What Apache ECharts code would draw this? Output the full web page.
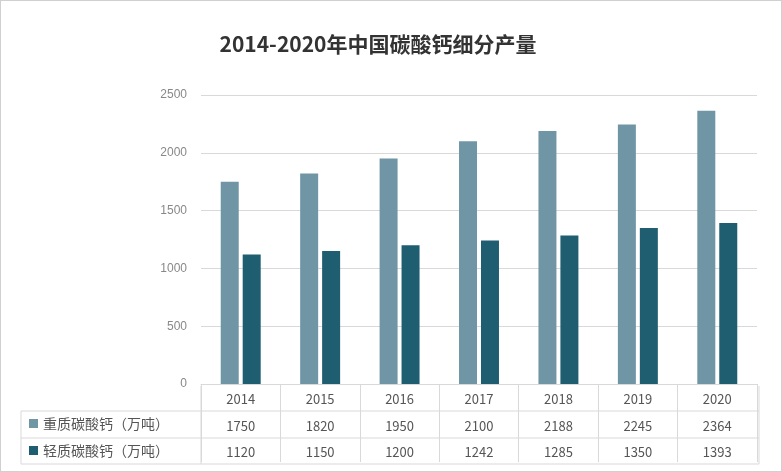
<!DOCTYPE html>
<html><head><meta charset="utf-8">
<script src="https://cdn.jsdelivr.net/npm/echarts@6/dist/echarts.min.js"></script>
<style>html,body{margin:0;padding:0;background:#fff}#c{width:782px;height:472px;box-sizing:border-box;border:1px solid #d0d0d0}</style>
</head><body><div id="c"></div>
<script>
let years = ["2014", "2015", "2016", "2017", "2018", "2019", "2020"];
let heavy = [1750, 1820, 1950, 2100, 2188, 2245, 2364];
let light = [1120, 1150, 1200, 1242, 1285, 1350, 1393];
let names = ["重质碳酸钙（万吨）", "轻质碳酸钙（万吨）"];
let colors = ["#7096a6", "#1f5d71"];

let chart = echarts.init(document.getElementById("c"));
let L = 200, R = 758, T = 94, B = 385;
let lineStyle = { stroke: "#d9d9d9", lineWidth: 1 };
let font = '"Noto Sans CJK SC", sans-serif';
let graphic = [
  { type: "line", shape: { x1: 20, y1: 410, x2: R, y2: 410 }, style: lineStyle },
  { type: "line", shape: { x1: 20, y1: 437, x2: R, y2: 437 }, style: lineStyle },
  { type: "line", shape: { x1: 20, y1: 463, x2: R, y2: 463 }, style: lineStyle },
  { type: "line", shape: { x1: 20, y1: 410, x2: 20, y2: 463 }, style: lineStyle },
  { type: "line", shape: { x1: L, y1: B, x2: L, y2: 463 }, style: lineStyle },
  { type: "line", shape: { x1: R, y1: B, x2: R, y2: 463 }, style: lineStyle }
];
names.forEach(function(n, i) {
  let y = 423 + i * 27;
  graphic.push({ type: "rect", shape: { x: 28, y: y - 5, width: 9, height: 9 }, style: { fill: colors[i] } });
  graphic.push({ type: "text", x: 42, y: y, style: { text: n, fill: "#555", font: "14px " + font, verticalAlign: "middle" } });
});

let option = {
  title: { text: "2014-2020年中国碳酸钙细分产量", left: 372, top: 28, textAlign: "center",
    textStyle: { fontSize: 21, fontWeight: "bold", color: "#333", fontFamily: font } },
  grid: { left: L, right: 782 - R, top: T, bottom: 472 - B },
  xAxis: {
    type: "category", data: years,
    axisLine: { lineStyle: { color: "#d9d9d9" } },
    axisTick: { show: true, length: 78, lineStyle: { color: "#d9d9d9" } },
    axisLabel: {
      margin: 2, color: "#555", fontFamily: font,
      formatter: function(v, i) { return "{a|" + v + "}\n{a|" + heavy[i] + "}\n{a|" + light[i] + "}"; },
      rich: { a: { fontSize: 13, lineHeight: 26.5, color: "#555" } }
    }
  },
  yAxis: {
    type: "value", min: 0, max: 2500, interval: 500,
    axisLabel: { color: "#888", fontSize: 12, margin: 14, formatter: function(v) { return String(v); } },
    splitLine: { lineStyle: { color: "#d9d9d9" } }
  },
  graphic: graphic,
  series: [
    { name: names[0], type: "bar", data: heavy, barWidth: 18, barGap: "22%", itemStyle: { color: colors[0] } },
    { name: names[1], type: "bar", data: light, barWidth: 18, itemStyle: { color: colors[1] } }
  ]
};
chart.setOption(option);
</script></body></html>
